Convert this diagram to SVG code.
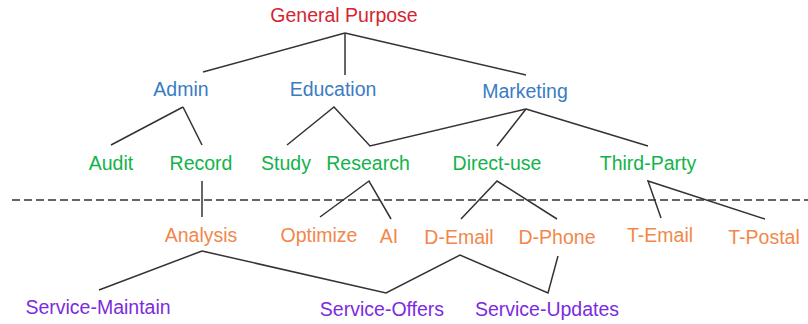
<svg xmlns="http://www.w3.org/2000/svg" width="808" height="324" viewBox="0 0 808 324">
<style>
text{font-family:"Liberation Sans",Arial,sans-serif;font-size:19.5px;text-anchor:middle}
.r{fill:#D42530}.b{fill:#3A7CC2}.g{fill:#12B34A}.o{fill:#F2874A}.p{fill:#7B2BDF}
.c line,.c polyline{stroke:#333;stroke-width:1.5;fill:none}
.d{stroke:#333;stroke-width:1.3;stroke-dasharray:8 4}
</style>
<rect width="808" height="324" fill="#fff"/>
<g class="c" id="connectors">
<line x1="345" y1="33" x2="203" y2="72"/>
<line x1="345" y1="33" x2="345" y2="75"/>
<line x1="345" y1="33" x2="526" y2="75"/>
<line x1="183" y1="107" x2="111" y2="145"/>
<line x1="183" y1="107" x2="202" y2="145"/>
<polyline points="287,145 334,107 370,146 526,109"/>
<line x1="526" y1="109" x2="497" y2="146"/>
<line x1="526" y1="109" x2="648" y2="146"/>
<line x1="202" y1="181" x2="202" y2="217"/>
<polyline points="320,217 369,181 391,219"/>
<polyline points="461,219 497,181 557,219"/>
<polyline points="661,218 648,181 765,219"/>
<line x1="202" y1="251" x2="99" y2="290"/>
<polyline points="202,251 386,293 460,255 548,293 558,256"/>
</g>
<line id="divider" class="d" x1="12" y1="200" x2="808" y2="200"/>
<g id="general-purpose"><text class="r" x="344" y="22">General Purpose</text></g>
<g id="admin"><text class="b" x="181" y="96">Admin</text></g>
<g id="education"><text class="b" x="333" y="96">Education</text></g>
<g id="marketing"><text class="b" x="525" y="98">Marketing</text></g>
<g id="audit"><text class="g" x="111" y="170">Audit</text></g>
<g id="record"><text class="g" x="201" y="170">Record</text></g>
<g id="study"><text class="g" x="286" y="170">Study</text></g>
<g id="research"><text class="g" x="368" y="170">Research</text></g>
<g id="direct-use"><text class="g" x="497" y="170">Direct-use</text></g>
<g id="third-party"><text class="g" x="648" y="170">Third-Party</text></g>
<g id="analysis"><text class="o" x="201" y="242">Analysis</text></g>
<g id="optimize"><text class="o" x="319" y="242">Optimize</text></g>
<g id="ai"><text class="o" x="389" y="243">AI</text></g>
<g id="d-email"><text class="o" x="459" y="244">D-Email</text></g>
<g id="d-phone"><text class="o" x="557" y="244">D-Phone</text></g>
<g id="t-email"><text class="o" x="660" y="242">T-Email</text></g>
<g id="t-postal"><text class="o" x="764" y="244">T-Postal</text></g>
<g id="service-maintain"><text class="p" x="98" y="314">Service-Maintain</text></g>
<g id="service-offers"><text class="p" x="382" y="316">Service-Offers</text></g>
<g id="service-updates"><text class="p" x="547" y="316">Service-Updates</text></g>
</svg>
